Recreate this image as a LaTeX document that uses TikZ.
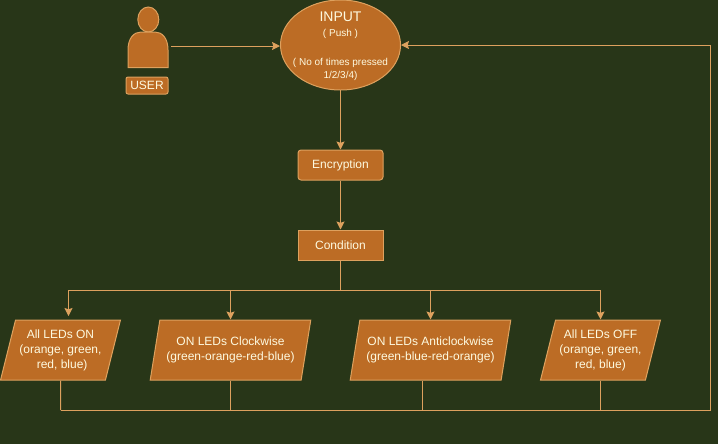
\documentclass[tikz,border=0pt]{standalone}
\usepackage{fontspec}
\setmainfont{Liberation Sans}
\usetikzlibrary{shapes.geometric,arrows.meta}
\definecolor{bgdark}{HTML}{283618}
\definecolor{boxfill}{HTML}{BC6C25}
\definecolor{boxline}{HTML}{DDA15E}
\definecolor{boxtext}{HTML}{FEFAE0}
\tikzset{
  box/.style={draw=boxline,fill=boxfill,text=boxtext,line width=0.75pt,inner sep=0pt,align=center,font=\fontsize{9}{11.25}\selectfont},
  ledbox/.style={box,trapezium,trapezium left angle=71.57,trapezium right angle=108.43,trapezium stretches=true,minimum height=45pt},
  flow/.style={draw=boxline,line width=0.75pt},
  arrow/.style={flow,-{Stealth[length=6pt,width=6pt,inset=1pt]}}
}
\begin{document}
\begin{tikzpicture}[x=0.75pt,y=-0.75pt]
  \useasboundingbox[fill=bgdark] (0,0) rectangle (718,444);
  % user figure
  \draw[box] (148.3,19.5) ellipse [x radius=10.5,y radius=12.5];
  \draw[box] (128,67.5) -- (128,50) .. controls (128,38) and (134,32) .. (141,32) -- (155,32) .. controls (162,32) and (168,38) .. (168,50) -- (168,67.5) -- cycle;
  \node (user) at (148,46) [minimum width=34.5pt,minimum height=20pt,inner sep=0pt] {};
  \node[box,rounded corners=1.5pt,minimum width=31.5pt,minimum height=12.75pt] (userlabel) at (147,85.5) {USER};
  \node[box,ellipse,minimum width=90pt,minimum height=67.5pt] (input) at (340.5,45) {};
  \node[text=boxtext,inner sep=0pt,align=center,font=\fontsize{7.5}{10}\selectfont] (inputtext) at (340.5,46) {{\fontsize{10.5}{12}\selectfont INPUT}\\[1.5pt]( Push )\\[11.5pt]( No of times pressed\\1/2/3/4)};
  \node[box,rounded corners=2.25pt,minimum width=63.75pt,minimum height=22.5pt] (encrypt) at (340.5,165) {Encryption};
  \node[box,minimum width=63.75pt,minimum height=22.5pt] (cond) at (340.5,245) {Condition};
  % output blocks
  \node[ledbox,minimum width=90.5pt] (allon) at (60.5,350) {All LEDs ON\\(orange, green,\\\hspace{2.5pt}red, blue)};
  \node[ledbox,minimum width=120.5pt] (clock) at (230.5,350) {ON LEDs Clockwise\\(green-orange-red-blue)};
  \node[ledbox,minimum width=120.5pt] (anti) at (430.5,350) {ON LEDs Anticlockwise\\(green-blue-red-orange)};
  \node[ledbox,minimum width=90.5pt] (alloff) at (600.5,350) {All LEDs OFF\\(orange, green,\\red, blue)};
  \coordinate (bus) at (340.5,290);
  \coordinate (ontip) at (68.5,316);
  \coordinate (retleft) at (60.5,410);
  \coordinate (retanti) at (422,410);
  \coordinate (retright) at (710.5,410);
  \draw[arrow] (user.east) -- (input.west |- user.east);
  \draw[arrow] (input) ++(0,45) -- (encrypt);
  \draw[arrow] (encrypt) -- (cond);
  \draw[flow] (cond) -- (bus);
  \draw[arrow] (bus) -| (ontip);
  \draw[arrow] (bus) -| (clock.north);
  \draw[arrow] (bus) -| (anti.north);
  \draw[arrow] (bus) -| (alloff.north);
  \draw[flow] (allon.south) -- (retleft);
  \draw[flow] (clock.south) -- (clock.south |- retleft);
  \draw[flow] (anti.south -| retanti) -- (retanti);
  \draw[flow] (alloff.south) -- (alloff.south |- retleft);
  \draw[arrow] (retleft) -- (retright) |- (input.east);
\end{tikzpicture}
\end{document}
